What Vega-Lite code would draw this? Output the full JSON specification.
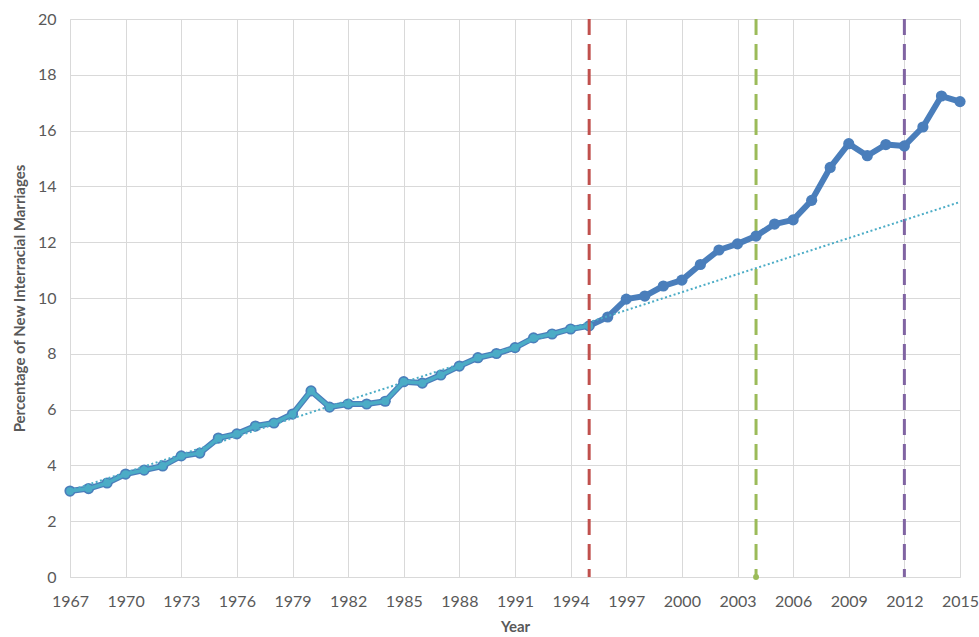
{
  "$schema": "https://vega.github.io/schema/vega-lite/v6.json",
  "width": 890,
  "height": 558,
  "autosize": "none",
  "padding": {"left": 70, "top": 19, "right": 19, "bottom": 60},
  "background": "white",
  "config": {
    "view": {"stroke": null},
    "font": "Lato",
    "axis": {"labelFont": "Lato", "titleFont": "Lato", "labelColor": "#595959", "titleColor": "#595959", "gridColor": "#d9d9d9", "domainColor": "#d9d9d9", "ticks": false, "labelFontSize": 16, "titleFontSize": 15, "titleFontWeight": "bold"}
  },
  "datasets": {
    "series": [
      {"year": 1967, "pct": 3.08}, {"year": 1968, "pct": 3.17}, {"year": 1969, "pct": 3.37}, {"year": 1970, "pct": 3.69},
      {"year": 1971, "pct": 3.83}, {"year": 1972, "pct": 3.98}, {"year": 1973, "pct": 4.34}, {"year": 1974, "pct": 4.44},
      {"year": 1975, "pct": 4.98}, {"year": 1976, "pct": 5.13}, {"year": 1977, "pct": 5.41}, {"year": 1978, "pct": 5.52},
      {"year": 1979, "pct": 5.84}, {"year": 1980, "pct": 6.67}, {"year": 1981, "pct": 6.09}, {"year": 1982, "pct": 6.2},
      {"year": 1983, "pct": 6.2}, {"year": 1984, "pct": 6.3}, {"year": 1985, "pct": 7.0}, {"year": 1986, "pct": 6.95},
      {"year": 1987, "pct": 7.24}, {"year": 1988, "pct": 7.56}, {"year": 1989, "pct": 7.86}, {"year": 1990, "pct": 8.01},
      {"year": 1991, "pct": 8.22}, {"year": 1992, "pct": 8.57}, {"year": 1993, "pct": 8.71}, {"year": 1994, "pct": 8.89},
      {"year": 1995, "pct": 9.0}, {"year": 1996, "pct": 9.32}, {"year": 1997, "pct": 9.96}, {"year": 1998, "pct": 10.07},
      {"year": 1999, "pct": 10.43}, {"year": 2000, "pct": 10.64}, {"year": 2001, "pct": 11.2}, {"year": 2002, "pct": 11.72},
      {"year": 2003, "pct": 11.94}, {"year": 2004, "pct": 12.22}, {"year": 2005, "pct": 12.65}, {"year": 2006, "pct": 12.8},
      {"year": 2007, "pct": 13.5}, {"year": 2008, "pct": 14.68}, {"year": 2009, "pct": 15.53}, {"year": 2010, "pct": 15.1},
      {"year": 2011, "pct": 15.5}, {"year": 2012, "pct": 15.45}, {"year": 2013, "pct": 16.13}, {"year": 2014, "pct": 17.24},
      {"year": 2015, "pct": 17.04}
    ],
    "trend": [{"year": 1967, "pct": 3.1}, {"year": 2015, "pct": 13.44}],
    "markers": [
      {"year": 1995, "event": "a", "color": "#C0504D"},
      {"year": 2004, "event": "b", "color": "#9BBB59"},
      {"year": 2012, "event": "c", "color": "#8064A2"}
    ]
  },
  "layer": [
    {
      "data": {"name": "series"},
      "mark": {"type": "line", "color": "#4A7EBB", "strokeWidth": 6, "strokeJoin": "round", "strokeCap": "round"},
      "encoding": {
        "x": {"field": "year", "type": "quantitative", "scale": {"domain": [1967, 2015], "nice": false, "zero": false},
          "axis": {"values": [1967,1970,1973,1976,1979,1982,1985,1988,1991,1994,1997,2000,2003,2006,2009,2012,2015], "format": "d", "title": "Year", "labelPadding": 16, "titlePadding": 10, "labelFlush": false}},
        "y": {"field": "pct", "type": "quantitative", "scale": {"domain": [0, 20], "nice": false},
          "axis": {"values": [0,2,4,6,8,10,12,14,16,18,20], "title": "Percentage of New Interracial Marriages", "labelPadding": 14, "titlePadding": 10}}
      }
    },
    {
      "data": {"name": "markers"},
      "transform": [{"filter": "datum.year != 1995"}],
      "mark": {"type": "rule", "strokeWidth": 3, "strokeDash": [16, 9]},
      "encoding": {
        "x": {"field": "year", "type": "quantitative"},
        "color": {"field": "color", "type": "nominal", "scale": null}
      }
    },
    {
      "data": {"name": "markers"},
      "transform": [{"filter": "datum.year == 2004"}],
      "mark": {"type": "point", "filled": true, "size": 35, "opacity": 1},
      "encoding": {
        "x": {"field": "year", "type": "quantitative"},
        "y": {"datum": 0},
        "color": {"field": "color", "type": "nominal", "scale": null}
      }
    },
    {
      "data": {"name": "series"},
      "mark": {"type": "point", "filled": true, "size": 125, "color": "#4A7EBB", "opacity": 1},
      "encoding": {
        "x": {"field": "year", "type": "quantitative"},
        "y": {"field": "pct", "type": "quantitative"}
      }
    },
    {
      "data": {"name": "trend"},
      "mark": {"type": "line", "color": "#4BACC6", "strokeWidth": 2, "strokeDash": [2, 2.5]},
      "encoding": {
        "x": {"field": "year", "type": "quantitative"},
        "y": {"field": "pct", "type": "quantitative"}
      }
    },
    {
      "data": {"name": "series"},
      "transform": [{"filter": "datum.year <= 1995"}],
      "mark": {"type": "line", "color": "#4BACC6", "strokeWidth": 3.5, "strokeJoin": "round"},
      "encoding": {
        "x": {"field": "year", "type": "quantitative"},
        "y": {"field": "pct", "type": "quantitative"}
      }
    },
    {
      "data": {"name": "series"},
      "transform": [{"filter": "datum.year <= 1995"}],
      "mark": {"type": "point", "filled": true, "size": 60, "color": "#4BACC6", "opacity": 1},
      "encoding": {
        "x": {"field": "year", "type": "quantitative"},
        "y": {"field": "pct", "type": "quantitative"}
      }
    },
    {
      "data": {"name": "markers"},
      "transform": [{"filter": "datum.year == 1995"}],
      "mark": {"type": "rule", "strokeWidth": 3, "strokeDash": [16, 9]},
      "encoding": {
        "x": {"field": "year", "type": "quantitative"},
        "color": {"field": "color", "type": "nominal", "scale": null}
      }
    }
  ]
}
